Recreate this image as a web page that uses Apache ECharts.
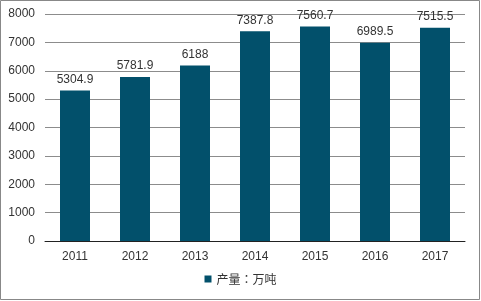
<!DOCTYPE html>
<html><head><meta charset="utf-8">
<script src="https://cdn.jsdelivr.net/npm/echarts@6/dist/echarts.min.js"></script>
<style>html,body{margin:0;padding:0;background:#fff}#c{width:481px;height:301px}</style>
</head><body><div id="c"></div>
<script>
const categories = ['2011','2012','2013','2014','2015','2016','2017'];
const values = [5304.9, 5781.9, 6188, 7387.8, 7560.7, 6989.5, 7515.5];
const seriesName = '产量：万吨';
const chart = echarts.init(document.getElementById('c'));
chart.setOption({
  animation: false,
  backgroundColor: '#fff',
  graphic: [{type:'rect', shape:{x:0.5,y:0.5,width:479,height:299}, style:{fill:'none', stroke:'#888', lineWidth:1}, silent:true}],
  grid: {left:45, right:16, top:14, bottom:60},
  legend: {bottom:11, left:'center', itemWidth:7, itemHeight:7, icon:'rect', itemGap:4,
    textStyle:{fontSize:12, color:'#333', fontFamily:'Noto Sans CJK TC'}},
  xAxis: {type:'category', data:categories,
    axisLine:{lineStyle:{color:'#222'}}, axisTick:{show:false},
    axisLabel:{color:'#333', fontSize:12, fontFamily:'Liberation Sans', margin:10}},
  yAxis: {type:'value', min:0, max:8000, interval:1000,
    axisLine:{show:false}, axisTick:{show:false},
    splitLine:{lineStyle:{color:'#8c8c8c'}},
    axisLabel:{color:'#333', fontSize:12, fontFamily:'Liberation Sans', margin:10, formatter: v => String(v)}},
  series: [{name:seriesName, type:'bar', data:values, barWidth:30,
    itemStyle:{color:'#02506b'},
    label:{show:true, position:'top', distance:5, color:'#333', fontSize:12, fontFamily:'Liberation Sans'}}]
});
</script></body></html>
